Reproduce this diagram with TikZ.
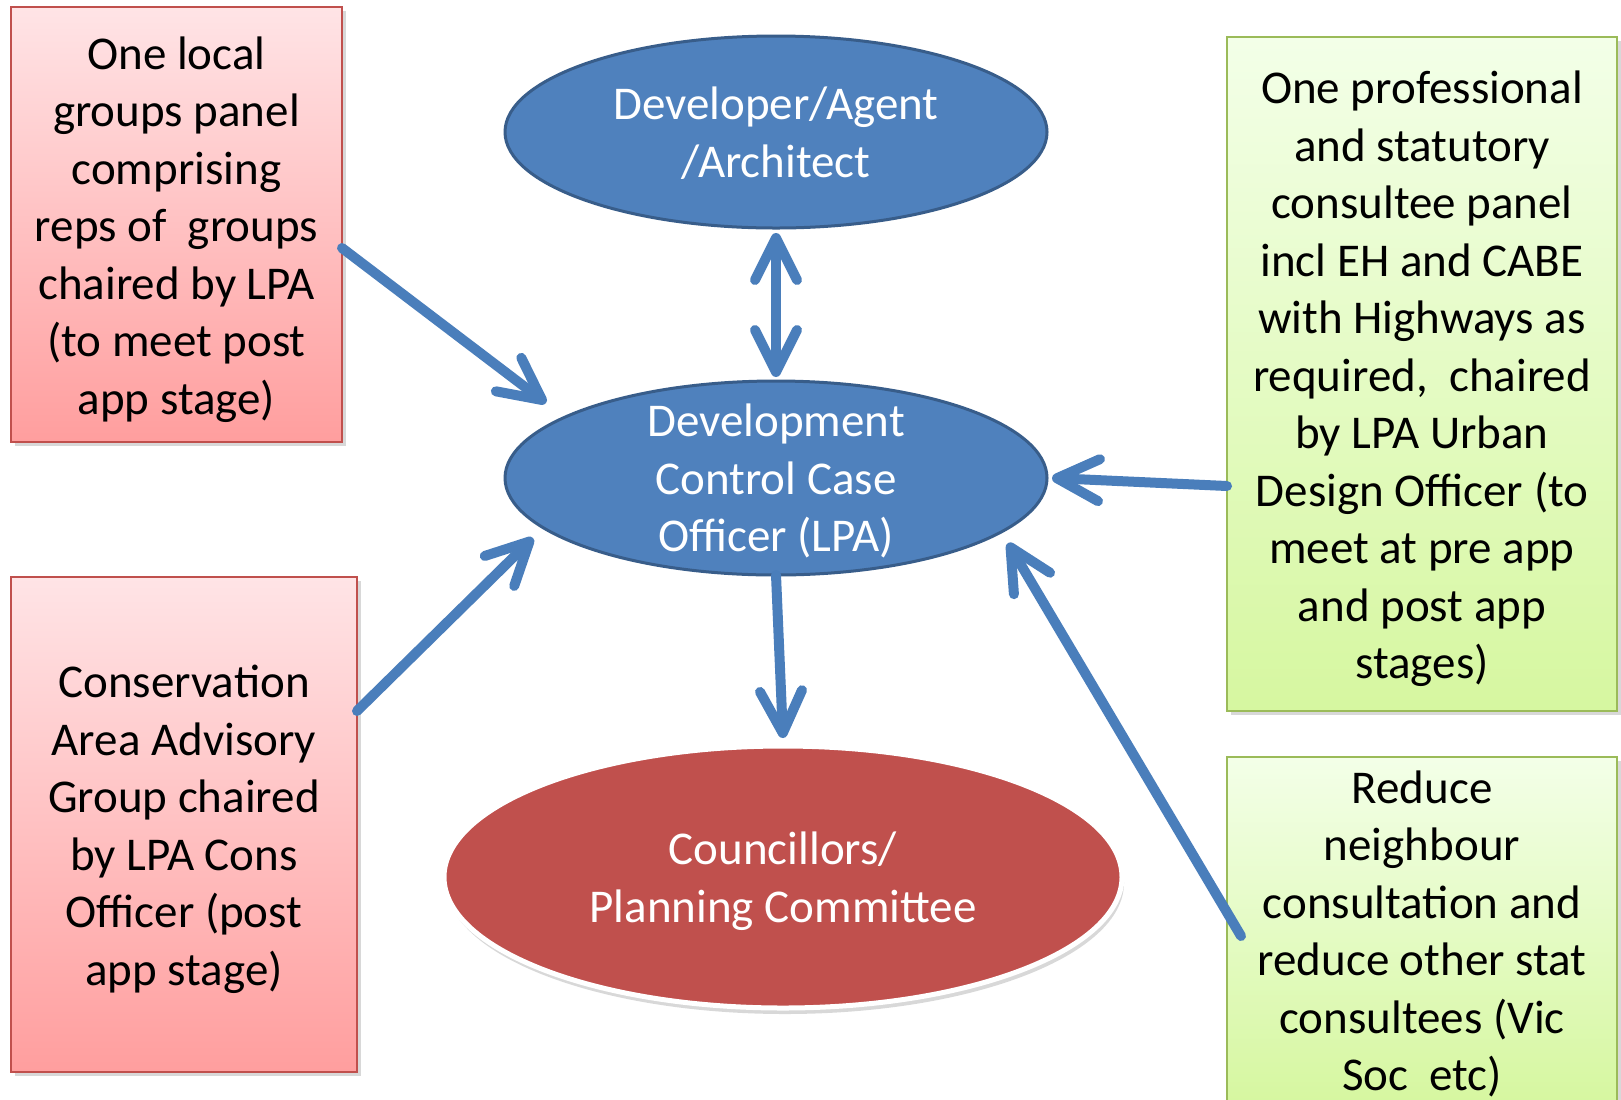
\documentclass[tikz,border=0pt]{standalone}
\usepackage{fontspec}
\setmainfont{Carlito}
\usetikzlibrary{shapes.geometric,arrows.meta,shadows,calc}
\definecolor{blueF}{HTML}{4F81BD}
\definecolor{blueD}{HTML}{385D8A}
\definecolor{arrowC}{HTML}{4A7EBB}
\definecolor{redE}{HTML}{C0504D}
\definecolor{redTop}{HTML}{FFE4E6}
\definecolor{redBot}{HTML}{FF9E9E}
\definecolor{redB}{HTML}{C0504D}
\definecolor{grnTop}{HTML}{F3FFE8}
\definecolor{grnBot}{HTML}{D6F7A0}
\definecolor{grnB}{HTML}{9BBB59}
\tikzset{mytip/.tip={Straight Barb[length=21pt,width=21pt,round]}}
\begin{document}
\begin{tikzpicture}[x=0.5pt,y=-0.5pt,
  txt/.style={font=\fontsize{23.5}{28.75}\selectfont, align=center, inner sep=0pt, outer sep=0pt},
  redbox/.style={rectangle, draw=redB, line width=1pt, top color=redTop, bottom color=redBot, inner sep=0pt, outer sep=0pt,
    drop shadow={shadow xshift=2pt,shadow yshift=-2pt,opacity=0.3}},
  grnbox/.style={rectangle, draw=grnB, line width=1pt, top color=grnTop, bottom color=grnBot, inner sep=0pt, outer sep=0pt,
    drop shadow={shadow xshift=2pt,shadow yshift=-2pt,opacity=0.3}},
  blueell/.style={ellipse, fill=blueF, draw=blueD, line width=1.5pt, inner sep=0pt, outer sep=0pt},
  redell/.style={ellipse, fill=redE, draw=white, line width=2.5pt, inner sep=0pt, outer sep=0pt,
    drop shadow={shadow xshift=1pt,shadow yshift=-3pt,opacity=0.3}},
  etext/.style={txt, text=white},
  arr/.style={draw=arrowC, line width=5pt, line cap=round, -mytip},
  arr2/.style={draw=arrowC, line width=5pt, line cap=round, mytip-mytip}]
\useasboundingbox (0,0) rectangle (1621,1099);
\fill[white] (0,0) rectangle (1621,1099);
% boxes
\node[redbox, minimum width=165.5pt, minimum height=217.5pt] (tl) at (176.5,224.5) {};
\node[txt] (tlt) at ($(tl)+(0,5)$)
  {One local\\groups panel\\comprising\\reps of\ \ groups\\chaired by LPA\\(to meet post\\app stage)};
\node[redbox, minimum width=173pt, minimum height=247.5pt] (bl) at (184,824.5) {};
\node[txt] (blt) at ($(bl)+(0,5)$)
  {Conservation\\Area Advisory\\Group chaired\\by LPA Cons\\Officer (post\\app stage)};
\node[grnbox, minimum width=195pt, minimum height=337pt] (gt) at (1422,374) {};
\node[txt] (gtt) at ($(gt)+(0,5)$)
  {One professional\\and statutory\\consultee panel\\incl EH and CABE\\with Highways as\\required,\ \ chaired\\by LPA Urban\\Design Officer (to\\meet at pre app\\and post app\\stages)};
\node[grnbox, minimum width=195pt, minimum height=173pt] (gb) at (1422,930) {};
\node[txt] (gbt) at ($(gb)+(0,4)$)
  {Reduce\\neighbour\\consultation and\\reduce other stat\\consultees (Vic\\Soc\ \ etc)};
% ellipses
\node[blueell, minimum width=271pt, minimum height=96pt] (dev) at (776,132) {};
\node[etext] (devt) at (776,133) {Developer/Agent\\/Architect};
\node[blueell, minimum width=271pt, minimum height=97pt] (mid) at (776,478) {};
\node[etext] (midt) at (776,481) {Development\\Control Case\\Officer (LPA)};
\node[redell, minimum width=339pt, minimum height=131pt] (cpc) at (783,877) {};
\node[etext] (cpct) at (783,881) {Councillors/\\Planning Committee};
% arrows
\draw[arr2] ($(dev.south)+(0,5)$) -- ($(mid.north)+(0,-4)$);
\draw[arr] (mid.south) -- ($(cpc.north)+(0,-8)$);
\draw[arr] ($(tl.east)+(0,23.5)$) -- ($(mid)+(-230,-75)$);
\draw[arr] ($(bl.east)+(0,-113.5)$) -- ($(mid)+(-243,60)$);
\draw[arr] ($(gt.west)+(0,112)$) -- ($(mid.east)+(5,0)$);
\draw[arr] ($(gb.west)+(14,6)$) -- ($(mid)+(232,65)$);
\end{tikzpicture}
\end{document}
